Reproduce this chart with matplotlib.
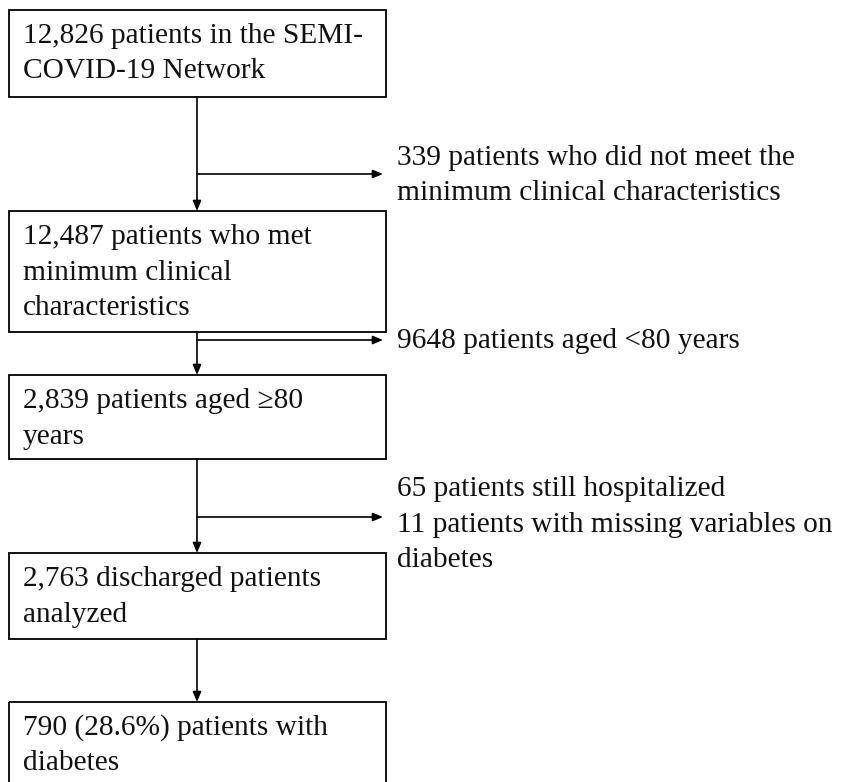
import matplotlib.pyplot as plt
from matplotlib.patches import Rectangle

# box texts (one string per line)
box_lines = [
    ['12,826 patients in the SEMI-', 'COVID-19 Network'],
    ['12,487 patients who met', 'minimum clinical', 'characteristics'],
    ['2,839 patients aged \u226580', 'years'],
    ['2,763 discharged patients', 'analyzed'],
    ['790 (28.6%) patients with', 'diabetes'],
]
# exclusion texts beside the arrows
excl_lines = [
    ['339 patients who did not meet the', 'minimum clinical characteristics'],
    ['9648 patients aged <80 years'],
    ['65 patients still hospitalized', '11 patients with missing variables on', 'diabetes'],
]

# layout (pixels, y grows downward)
box_top = [10, 211, 375, 553, 702]
box_bot = [97, 332, 459, 639, 790]
box_x0, box_x1 = 9, 386
stem_x = 197
side_y = [174, 340, 517]        # y of side arrows
side_base = [165, 348, 496]     # baseline of first line of side text
line_step = 35.5
FONT = 'Liberation Serif'
FS = 21.2

fig = plt.figure(figsize=(8.45, 7.82), dpi=100)
ax = fig.add_axes([0, 0, 1, 1])
ax.set_xlim(0, 845)
ax.set_ylim(782, 0)
ax.axis('off')

for i, lines in enumerate(box_lines):
    ax.add_patch(Rectangle((box_x0, box_top[i]), box_x1 - box_x0,
                           box_bot[i] - box_top[i], fill=False,
                           edgecolor='black', lw=1.3))
    for j, s in enumerate(lines):
        ax.text(23, box_top[i] + 33 + j * line_step, s, fontsize=FS,
                family=FONT, va='baseline', ha='left', color='#111111')

arrow = dict(arrowstyle='-|>,head_length=0.6,head_width=0.25',
             color='black', lw=1.2, shrinkA=0, shrinkB=0)

# downward arrows between boxes
for i in range(len(box_lines) - 1):
    ax.annotate('', xy=(stem_x, box_top[i + 1]), xytext=(stem_x, box_bot[i]),
                arrowprops=arrow)

# side arrows and exclusion text
for k, lines in enumerate(excl_lines):
    ax.annotate('', xy=(383, side_y[k]), xytext=(stem_x, side_y[k]),
                arrowprops=arrow)
    for j, s in enumerate(lines):
        ax.text(397, side_base[k] + j * line_step, s, fontsize=FS,
                family=FONT, va='baseline', ha='left', color='#111111')

plt.savefig('out.png', dpi=100)
